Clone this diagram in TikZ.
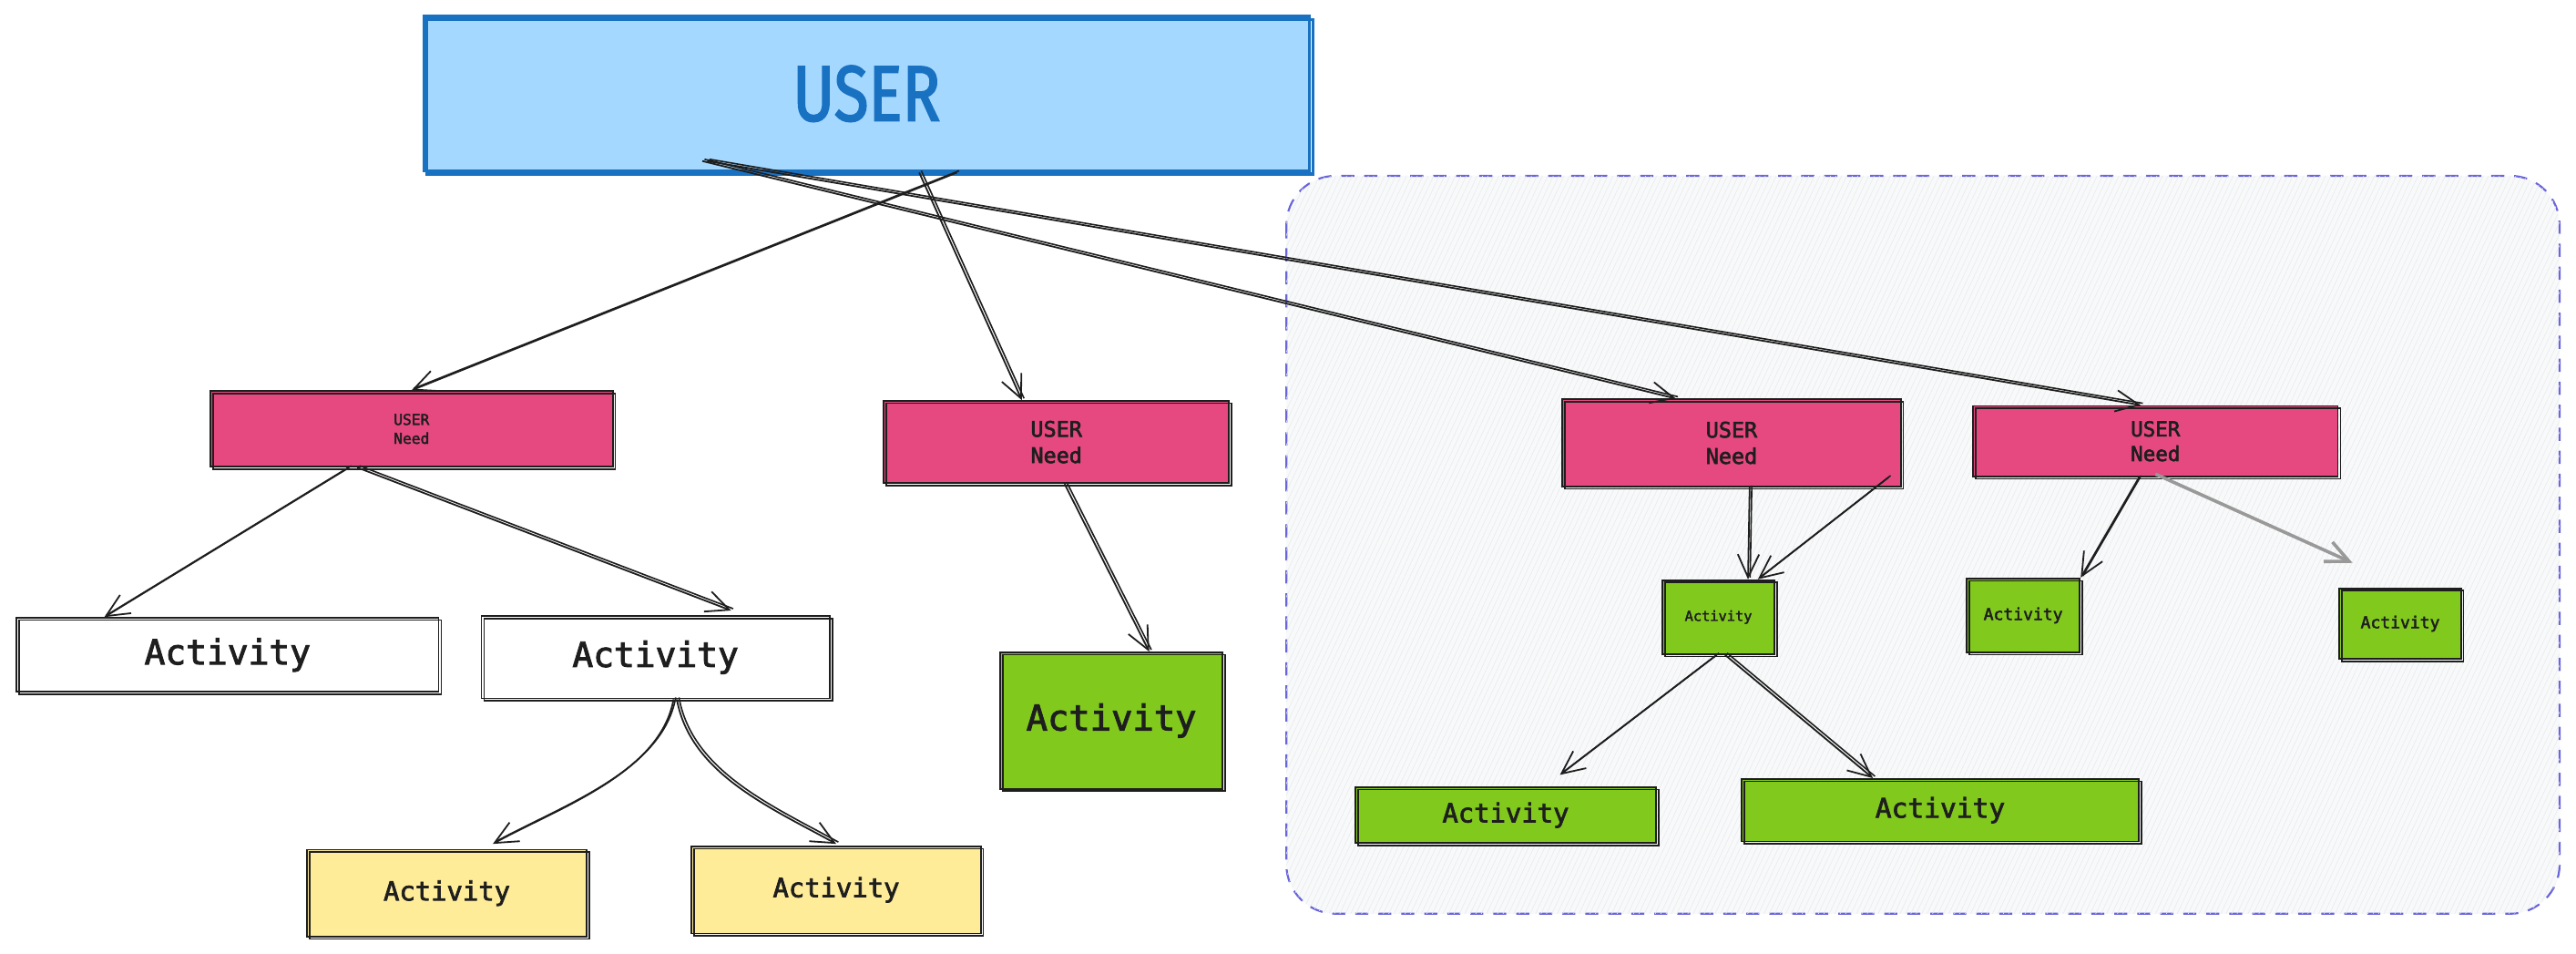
\documentclass[tikz,border=0pt]{standalone}
\usepackage{fontspec}
\setmonofont{DejaVu Sans Mono}
\newfontfamily\skmono[FakeBold=2.5]{DejaVu Sans Mono}
\newfontfamily\userfont[FakeStretch=0.8,FakeBold=2]{Fira Sans}
\usetikzlibrary{arrows.meta,calc,patterns.meta}
\definecolor{ink}{HTML}{1E1E1E}
\definecolor{ublue}{HTML}{A5D8FF}
\definecolor{ubluestroke}{HTML}{1971C2}
\definecolor{pinkc}{HTML}{E64980}
\definecolor{limec}{HTML}{82C91E}
\definecolor{yellowc}{HTML}{FFEC99}
\definecolor{grpstroke}{HTML}{6965DB}
\definecolor{grpfill}{HTML}{F8F9FA}
\definecolor{grayarrow}{HTML}{999999}
\tikzset{
  box/.style={draw=#1, line width=1pt, inner sep=0pt, align=center, text=ink,
    postaction={draw=#1, line width=0.9pt, transform canvas={shift={(1.6pt,-1.4pt)}}}},
  box/.default=ink,
  fs/.style={font=\skmono\fontsize{#1}{#1}\selectfont},
  con/.style={draw=ink, line width=1pt, -{Straight Barb[length=14pt,width=13pt,line width=1pt]},
    postaction={draw=ink, line width=0.9pt, -, transform canvas={shift={(1.3pt,1.1pt)}}}},
  graycon/.style={draw=grayarrow, line width=2pt, -{Straight Barb[length=14pt,width=13pt,line width=2pt]}},
  grp/.style={draw=grpstroke, line width=1.2pt, dash pattern=on 8pt off 6pt, rounded corners=30pt,
    fill=grpfill, postaction={pattern={Lines[angle=65,distance=3pt,line width=0.35pt]}, pattern color=gray!16}}
}
\begin{document}
\begin{tikzpicture}[x=1pt,y=-1pt]
\fill[white] (0,0) rectangle (1568,580);
\useasboundingbox (0,0) rectangle (1568,580);
% group background
\draw[grp] (783,107) rectangle (1558,556);

% nodes
\node[box=ubluestroke, line width=2pt, fill=ublue, minimum width=539pt, minimum height=94pt,
  text=ubluestroke, font=\userfont\fontsize{48}{50}\selectfont,
  postaction={draw=ubluestroke, line width=1.6pt, transform canvas={shift={(2pt,-2pt)}}}]
  (user) at (527.5,57) {USER};

\node[box, fill=pinkc, minimum width=245pt, minimum height=46pt, font=\skmono\fontsize{9}{11.5}\selectfont] (p1) at (250.5,261)
  {USER\\Need};
\node[box, fill=pinkc, minimum width=210pt, minimum height=50pt, font=\skmono\fontsize{13}{16}\selectfont] (p2) at (643,269)
  {USER\\Need};
\node[box, fill=pinkc, minimum width=206pt, minimum height=53pt, font=\skmono\fontsize{13}{16}\selectfont] (p3) at (1054,269.5)
  {USER\\Need};
\node[box, fill=pinkc, minimum width=222pt, minimum height=43pt, font=\skmono\fontsize{12.5}{15}\selectfont] (p4) at (1312,268.5)
  {USER\\Need};

\node[box, fill=white, minimum width=257pt, minimum height=45pt, fs=21] (a1) at (138.5,398.5) {Activity};
\node[box, fill=white, minimum width=212pt, minimum height=50pt, fs=21] (a2) at (399,400) {Activity};
\node[box, fill=limec, minimum width=135pt, minimum height=83pt, fs=21.5] (a3) at (676.5,438.5) {Activity};

\node[box, fill=yellowc, minimum width=170pt, minimum height=53pt, fs=16] (y1) at (272,543.5) {Activity};
\node[box, fill=yellowc, minimum width=176pt, minimum height=53pt, fs=16] (y2) at (509,541.5) {Activity};

\node[box, fill=limec, minimum width=68pt, minimum height=45pt, fs=8.5] (g1) at (1046,375.5) {Activity};
\node[box, fill=limec, minimum width=69pt, minimum height=45pt, fs=10] (g2) at (1231.5,374.5) {Activity};
\node[box, fill=limec, minimum width=74pt, minimum height=43pt, fs=10] (g3) at (1461,379.5) {Activity};
\node[box, fill=limec, minimum width=183pt, minimum height=34pt, fs=16] (g4) at (916.5,496) {Activity};
\node[box, fill=limec, minimum width=242pt, minimum height=38pt, fs=16.4] (g5) at (1181,493) {Activity};

% connectors
\draw[con] ([xshift=55pt]user.south) -- (p1.north);
\draw[con] ([xshift=32pt]user.south) -- ([xshift=-21pt]p2.north);
\draw[con] ([xshift=-100pt,yshift=7pt]user.south) -- ([xshift=-34pt]p3.north);
\draw[con] ([xshift=-97pt,yshift=7pt]user.south) -- ([xshift=-9pt]p4.north);

\draw[con] ([xshift=-38pt]p1.south) -- ([xshift=-75pt]a1.north);
\draw[con] ([xshift=-33pt]p1.south) -- ([xshift=46pt,yshift=3pt]a2.north);
\draw[con] ([xshift=5pt]p2.south) -- ([xshift=23pt]a3.north);

\draw[con] ([xshift=11pt]a2.south) .. controls +(-8,45) and +(40,-22) .. ([xshift=28pt,yshift=3pt]y1.north);
\draw[con] ([xshift=13pt]a2.south) .. controls +(8,45) and +(-40,-22) .. ([yshift=1pt]y2.north);

\draw[con] ([xshift=11pt]p3.south) -- ([xshift=18pt]g1.north);
\draw[con] ([xshift=-8pt,yshift=6pt]p3.south east) -- ([xshift=24pt]g1.north);
\draw[con] ([xshift=-10pt]p4.south) -- ([xshift=35pt]g2.north);
\draw[graycon] ([yshift=2pt]p4.south) -- ([xshift=-29pt,yshift=15pt]g3.north);

\draw[con] ([xshift=-1pt]g1.south) -- ([xshift=33pt,yshift=7pt]g4.north);
\draw[con] ([xshift=4pt]g1.south) -- ([xshift=-41pt]g5.north);
\end{tikzpicture}
\end{document}
